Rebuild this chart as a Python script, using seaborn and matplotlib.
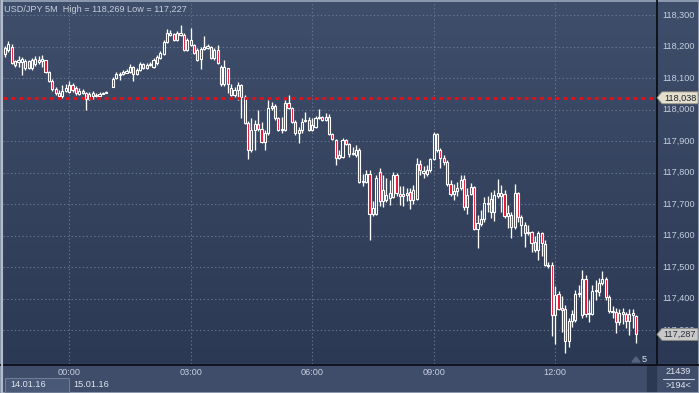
import numpy as np
import pandas as pd
import seaborn as sns
import matplotlib
matplotlib.use("Agg")
import matplotlib.pyplot as plt
from matplotlib.patches import Polygon, Rectangle
from matplotlib.transforms import IdentityTransform
from matplotlib import font_manager

# ---------------- data (USD/JPY, 5-minute candles, 22:25 14.01.16 -> 14:00 15.01.16) ----
nan = np.nan
opens = [118.178, 118.190, 118.200, 118.155, 118.152, 118.152, 118.133, 118.155, 118.133, 118.146,
         118.152, 118.155, 118.159, 118.120, 118.092, 118.066, 118.054, 118.044, 118.060, 118.057,
         118.079, 118.070, 118.051, 118.060, 118.054, 118.035, 118.044, 118.047, 118.044, 118.051,
         118.054, nan, 118.073, 118.101, 118.111, 118.114, 118.117, 118.120, 118.136, 118.114,
         118.127, 118.146, 118.133, 118.143, 118.136, 118.149, 118.165, 118.178, 118.216, 118.238,
         118.241, 118.222, 118.238, 118.238, 118.190, 118.222, 118.206, 118.190, 118.162, 118.193,
         118.197, 118.200, 118.165, 118.190, 118.136, 118.082, 118.133, 118.070, 118.047, 118.063,
         118.079, 118.041, 117.958, 117.873, 117.936, 117.955, 117.939, 117.898, 117.927, 118.006,
         118.012, 117.974, 117.936, 117.936, 118.022, 118.006, 117.962, 117.927, 117.936, 117.965,
         117.968, 117.936, 117.946, 117.974, 117.977, 117.968, 117.977, 117.924, 117.905, 117.847,
         117.851, 117.905, 117.892, 117.860, 117.857, 117.873, 117.771, 117.771, 117.797, 117.670,
         117.670, 117.803, 117.711, 117.714, 117.720, 117.724, 117.793, 117.733, 117.727, 117.730,
         117.739, 117.714, 117.717, 117.828, 117.800, 117.797, 117.809, 117.844, 117.924, 117.873,
         117.847, 117.835, 117.765, 117.733, 117.743, 117.752, 117.781, 117.692, 117.733, 117.755,
         117.622, 117.638, 117.654, 117.701, 117.717, 117.676, 117.727, 117.727, 117.733, 117.663,
         117.666, 117.628, 117.736, 117.660, 117.635, 117.609, 117.612, 117.581, 117.555, 117.609,
         117.574, 117.508, 117.508, 117.349, 117.416, 117.371, 117.368, 117.266, 117.330, 117.333,
         117.416, 117.349, 117.463, 117.352, 117.352, 117.425, 117.422, 117.450, 117.463, 117.406,
         117.362, 117.358, 117.327, 117.352, 117.352, 117.330, 117.349, 117.346]
highs = [118.203, 118.219, 118.209, 118.159, 118.171, 118.168, 118.162, 118.159, 118.165, 118.171,
         118.171, 118.174, 118.159, 118.124, 118.098, 118.073, 118.063, 118.079, 118.082, 118.092,
         118.085, 118.076, 118.070, 118.066, 118.057, 118.057, 118.060, 118.054, 118.057, 118.057,
         118.060, nan, 118.105, 118.120, 118.120, 118.127, 118.130, 118.146, 118.139, 118.133,
         118.152, 118.149, 118.149, 118.152, 118.165, 118.174, 118.187, 118.222, 118.257, 118.254,
         118.244, 118.251, 118.269, 118.244, 118.228, 118.260, 118.209, 118.197, 118.200, 118.235,
         118.209, 118.203, 118.197, 118.206, 118.143, 118.159, 118.133, 118.082, 118.073, 118.089,
         118.082, 118.047, 117.965, 117.974, 117.968, 118.000, 117.962, 117.936, 118.032, 118.025,
         118.019, 117.977, 117.977, 118.032, 118.047, 118.009, 117.968, 117.946, 117.974, 117.993,
         117.977, 117.974, 117.981, 118.003, 117.981, 117.990, 117.987, 117.927, 117.908, 117.873,
         117.911, 117.908, 117.895, 117.882, 117.889, 117.879, 117.797, 117.809, 117.809, 117.711,
         117.793, 117.816, 117.793, 117.784, 117.778, 117.803, 117.800, 117.758, 117.758, 117.752,
         117.752, 117.762, 117.847, 117.841, 117.822, 117.825, 117.847, 117.930, 117.927, 117.879,
         117.857, 117.841, 117.778, 117.765, 117.771, 117.793, 117.793, 117.752, 117.768, 117.758,
         117.666, 117.682, 117.724, 117.727, 117.739, 117.746, 117.781, 117.762, 117.746, 117.698,
         117.676, 117.765, 117.739, 117.666, 117.644, 117.635, 117.616, 117.600, 117.616, 117.612,
         117.587, 117.517, 117.517, 117.441, 117.425, 117.409, 117.381, 117.339, 117.365, 117.428,
         117.444, 117.492, 117.476, 117.397, 117.444, 117.460, 117.466, 117.489, 117.470, 117.412,
         117.377, 117.371, 117.368, 117.371, 117.358, 117.368, 117.368, 117.349]
lows = [118.168, 118.184, 118.146, 118.136, 118.136, 118.111, 118.127, 118.130, 118.127, 118.139,
        118.146, 118.136, 118.117, 118.089, 118.060, 118.047, 118.038, 118.038, 118.057, 118.054,
        118.057, 118.047, 118.047, 118.051, 118.000, 118.032, 118.035, 118.041, 118.044, 118.051,
        118.054, nan, 118.073, 118.098, 118.095, 118.111, 118.117, 118.117, 118.092, 118.111,
        118.124, 118.130, 118.130, 118.139, 118.133, 118.143, 118.162, 118.174, 118.212, 118.235,
        118.219, 118.219, 118.235, 118.187, 118.187, 118.203, 118.178, 118.155, 118.130, 118.190,
        118.193, 118.162, 118.159, 118.146, 118.076, 118.076, 118.054, 118.044, 118.041, 118.032,
        117.974, 117.955, 117.844, 117.866, 117.873, 117.933, 117.895, 117.873, 117.920, 118.000,
        117.968, 117.933, 117.927, 117.933, 118.003, 117.958, 117.920, 117.895, 117.927, 117.962,
        117.933, 117.933, 117.943, 117.971, 117.965, 117.965, 117.920, 117.905, 117.825, 117.844,
        117.847, 117.889, 117.851, 117.857, 117.851, 117.768, 117.758, 117.768, 117.587, 117.663,
        117.666, 117.695, 117.692, 117.708, 117.698, 117.720, 117.727, 117.698, 117.695, 117.711,
        117.685, 117.701, 117.714, 117.793, 117.784, 117.790, 117.803, 117.841, 117.866, 117.816,
        117.825, 117.758, 117.727, 117.714, 117.727, 117.746, 117.682, 117.670, 117.730, 117.619,
        117.562, 117.631, 117.644, 117.676, 117.657, 117.647, 117.720, 117.676, 117.657, 117.625,
        117.593, 117.622, 117.644, 117.600, 117.565, 117.603, 117.549, 117.549, 117.524, 117.536,
        117.504, 117.498, 117.282, 117.257, 117.365, 117.295, 117.227, 117.247, 117.311, 117.327,
        117.406, 117.339, 117.343, 117.327, 117.349, 117.397, 117.409, 117.444, 117.397, 117.355,
        117.339, 117.292, 117.317, 117.320, 117.308, 117.285, 117.308, 117.260]
closes = [118.197, 118.209, 118.149, 118.143, 118.159, 118.162, 118.155, 118.133, 118.159, 118.162,
          118.159, 118.162, 118.120, 118.092, 118.066, 118.054, 118.044, 118.060, 118.070, 118.079,
          118.063, 118.054, 118.060, 118.054, 118.035, 118.051, 118.054, 118.044, 118.051, 118.054,
          118.057, nan, 118.098, 118.114, 118.114, 118.120, 118.124, 118.136, 118.114, 118.127,
          118.146, 118.133, 118.143, 118.146, 118.159, 118.168, 118.181, 118.216, 118.244, 118.244,
          118.222, 118.244, 118.244, 118.190, 118.222, 118.206, 118.181, 118.159, 118.193, 118.200,
          118.203, 118.165, 118.190, 118.149, 118.082, 118.136, 118.082, 118.047, 118.063, 118.079,
          118.041, 117.958, 117.873, 117.936, 117.955, 117.939, 117.898, 117.927, 118.006, 118.012,
          117.974, 117.936, 117.939, 118.022, 118.006, 117.962, 117.927, 117.936, 117.962, 117.968,
          117.936, 117.952, 117.974, 117.977, 117.968, 117.977, 117.924, 117.908, 117.847, 117.857,
          117.905, 117.892, 117.860, 117.863, 117.873, 117.771, 117.774, 117.797, 117.670, 117.689,
          117.784, 117.711, 117.746, 117.730, 117.736, 117.793, 117.736, 117.727, 117.733, 117.736,
          117.714, 117.746, 117.828, 117.809, 117.806, 117.809, 117.844, 117.924, 117.873, 117.847,
          117.835, 117.765, 117.733, 117.743, 117.752, 117.778, 117.692, 117.730, 117.755, 117.622,
          117.641, 117.654, 117.705, 117.705, 117.676, 117.730, 117.736, 117.736, 117.663, 117.673,
          117.628, 117.736, 117.660, 117.635, 117.609, 117.612, 117.577, 117.555, 117.609, 117.577,
          117.508, 117.504, 117.349, 117.412, 117.368, 117.365, 117.266, 117.330, 117.352, 117.416,
          117.419, 117.463, 117.352, 117.355, 117.425, 117.428, 117.450, 117.463, 117.406, 117.362,
          117.358, 117.327, 117.355, 117.358, 117.330, 117.352, 117.355, 117.287]

time_ticks = [19, 55, 91, 127, 163]
time_labels = ["00:00", "03:00", "06:00", "09:00", "12:00"]
price_ticks = [118.3, 118.2, 118.1, 118.0, 117.9, 117.8, 117.7, 117.6, 117.5, 117.4, 117.3]
price_labels = ["118,300", "118,200", "118,100", "118,000", "117,900", "117,800",
                "117,700", "117,600", "117,500", "117,400", "117,300"]
hline_level = 118.038
hline_label = "118,038"
last_label = "117,287"
title_text = "USD/JPY 5M  High = 118,269 Low = 117,227"
date_labels = ["14.01.16", "15.01.16"]

# ---------------- style ----------------
sns.set_theme(style="dark", rc={"axes.facecolor": "none", "figure.facecolor": "#34425e"})
installed = {f.name for f in font_manager.fontManager.ttflist}
main_font = "Liberation Sans Narrow" if "Liberation Sans Narrow" in installed else "Liberation Sans"
plt.rcParams["font.family"] = [main_font, "DejaVu Sans"]
FS = 7.6 if main_font == "Liberation Sans Narrow" else 6.6

W, H = 699, 393
fig = plt.figure(figsize=(W / 100, H / 100), dpi=100)

def fb(x0, y0, w, h):
    """axes rect from top-left pixel coordinates"""
    return [x0 / W, 1 - (y0 + h) / H, w / W, h / H]

# background gradient (plot + price scale)
bg = fig.add_axes([0, 0, 1, 1], zorder=-10)
bg.set_axis_off()
grad = np.linspace(0, 1, 256)[:, None]
top = np.array([63, 78, 106]) / 255
bot = np.array([44, 57, 85]) / 255
img = top[None, None, :] * (1 - grad[..., None]) + bot[None, None, :] * grad[..., None]
bg.imshow(img, extent=[0, W, H - 364, H], aspect="auto")
bg.add_patch(Rectangle((0, 0), W, H - 364, color="#404d6a"))
bg.set_xlim(0, W)
bg.set_ylim(0, H)
# separators
bg.plot([656.5, 656.5], [H - 364, H], color="#0c0f16", lw=1.3)
bg.plot([0, W], [H - 364.5, H - 364.5], color="#0c0f16", lw=1.3)
# scroll strip
bg.add_patch(Rectangle((647, 1), 9, H - 365.5, color="#2d3852"))
# frame
bg.add_patch(Rectangle((0.5, 0.5), W - 1, H - 1, fill=False, ec="#9aa6bb", lw=1.2))
bg.plot([1.5, 1.5], [0, H], color="#b4bccb", lw=1.5)

# ---------------- main chart ----------------
ax = fig.add_axes(fb(3, 3, 653, 361))
ax.set_facecolor("none")
xmin = -2.0 / 3.375
ax.set_xlim(xmin, xmin + 653 / 3.375)
ax.set_ylim(117.193, 118.339)
for s in ax.spines.values():
    s.set_visible(False)
ax.set_xticks([])
ax.set_yticks([])

grid_kw = dict(color="#66758f", lw=0.8, ls=(0, (1.2, 2.2)), zorder=0)
for t in time_ticks:
    ax.axvline(t, **grid_kw)
for p in price_ticks:
    ax.axhline(p, **grid_kw)

df = pd.DataFrame({"open": opens, "high": highs, "low": lows, "close": closes})
df["idx"] = np.arange(len(df))
df = df.dropna()
bull = df["close"] >= df["open"]

ax.vlines(df["idx"], df["low"], df["high"], color="white", lw=0.95, zorder=2)
body_low = np.minimum(df["open"], df["close"])
body_h = np.maximum(np.abs(df["close"] - df["open"]), 0.0012)
faces = np.where(bull, "#38465f", "#e8102e")
ax.bar(df["idx"], body_h, bottom=body_low, width=0.64, color=faces,
       edgecolor="white", linewidth=0.8, zorder=3)

ax.axhline(hline_level, color="#e3101a", lw=2.0, ls=(0, (1.4, 1.4)), zorder=4)

# title
fig.text(4 / W, 1 - 9.5 / H, title_text, color="#c6cedb", fontsize=FS, va="center", ha="left")

# price labels
for p, lab in zip(price_ticks, price_labels):
    ax.text(1.009, p, lab, transform=ax.get_yaxis_transform(), color="#c6cfe0",
            fontsize=FS, va="center", ha="left", clip_on=False)

# time labels
xt = ax.get_xaxis_transform()
for t, lab in zip(time_ticks, time_labels):
    ax.text(t, -0.023, lab, transform=xt, color="#c6cfe0", fontsize=FS,
            ha="center", va="center", clip_on=False)

# date labels
bg.add_patch(Rectangle((5, H - 392), 64, 14, fc="#4a5878", ec="#6f7c96", lw=0.8))
fig.text(10 / W, 1 - 384.5 / H, date_labels[0], color="#dfe5ee", fontsize=FS, va="center")
fig.text(73 / W, 1 - 384.5 / H, date_labels[1], color="#dfe5ee", fontsize=FS, va="center")

# bottom-right counters
fig.text(678 / W, 1 - 372 / H, "21439", color="#dfe5ee", fontsize=FS, ha="center", va="center")
bg.plot([663, 694], [H - 378.5, H - 378.5], color="#c6cfe0", lw=0.8)
fig.text(678 / W, 1 - 385 / H, ">194<", color="#dfe5ee", fontsize=FS, ha="center", va="center")

# "5" marker
fig.text(644 / W, 1 - 359 / H, "5", color="#dfe5ee", fontsize=FS, ha="center", va="center")
bg.add_patch(Polygon([[632, H - 362], [640, H - 362], [636, H - 357]], color="#56647f"))

# price tags
fig.canvas.draw()
def tag(price, text, fc, tc):
    yd = ax.transData.transform((0, price))[1]
    pts = [[657, yd], [662, yd + 6], [698, yd + 6], [698, yd - 6], [662, yd - 6]]
    fig.patches.append(Polygon(pts, closed=True, fc=fc, ec="#8a8a80", lw=0.6,
                               transform=IdentityTransform(), figure=fig, zorder=5))
    fig.text(680 / W, yd / H, text, color=tc, fontsize=FS, ha="center", va="center", zorder=6)

tag(hline_level, hline_label, "#e4e0cc", "#1e2430")
tag(closes[-1], last_label, "#c9c9c9", "#2a2f3a")

fig.savefig("out.png", dpi=100)
